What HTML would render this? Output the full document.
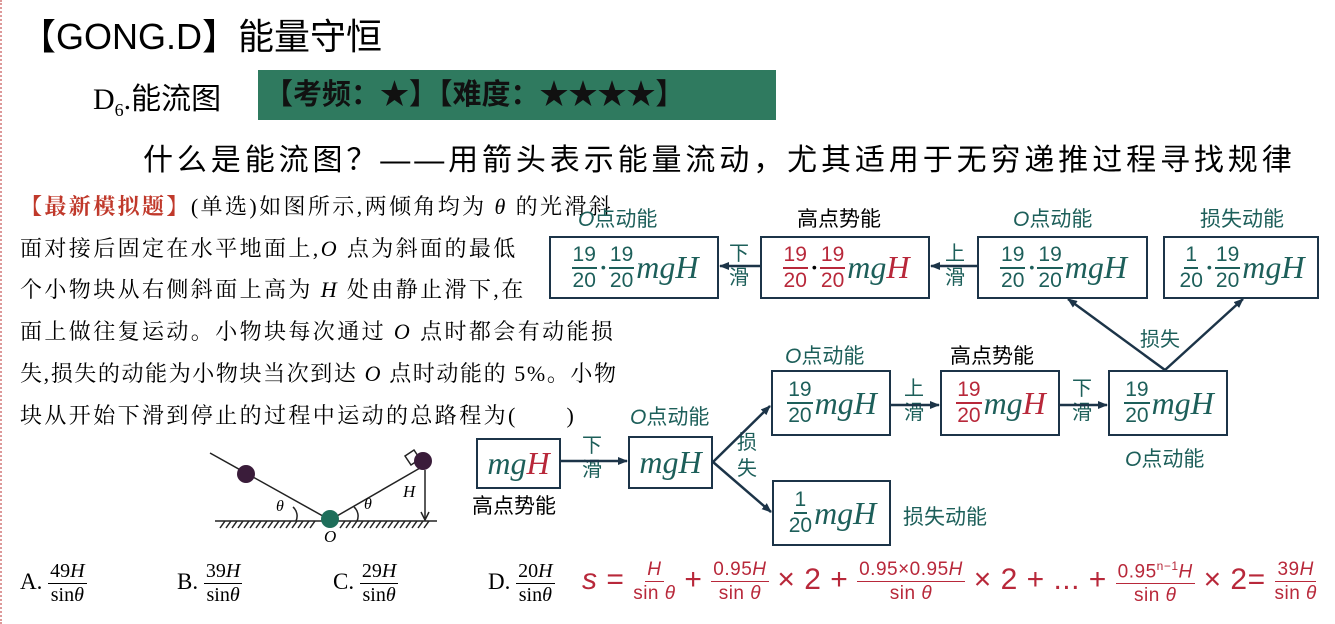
<!DOCTYPE html>
<html><head><meta charset="utf-8"><style>
body{margin:0;width:1335px;height:624px;background:#fff;position:relative;overflow:hidden;font-family:"Liberation Serif","Noto Serif CJK SC",serif;}
.a{position:absolute;white-space:nowrap;}
.cn{font-family:"Liberation Sans","Noto Sans CJK SC",sans-serif;}
.t{color:#1d5f5a}.r{color:#b8283a}
.box{position:absolute;border:2px solid #1c3448;box-sizing:border-box;display:flex;align-items:center;justify-content:center;font-family:"Liberation Serif",serif;font-style:italic;font-size:32px;}
.fr{display:inline-flex;flex-direction:column;align-items:center;font-style:normal;font-family:"Liberation Sans",sans-serif;font-size:21px;line-height:24px;vertical-align:middle;margin:0 2px;}
.fr span:first-child{border-bottom:2px solid currentColor;padding:0 1px;}
.lbl{position:absolute;font-family:"Liberation Sans","Noto Sans CJK SC",sans-serif;font-size:21px;}
.q{position:absolute;left:20px;font-size:22px;letter-spacing:2.4px;font-family:"Liberation Serif","Noto Serif CJK SC",serif;}
.ff{display:inline-flex;flex-direction:column;align-items:center;vertical-align:middle;font-size:19px;line-height:23px;}
.ff span:first-child{border-bottom:1.5px solid currentColor;padding:0 2px;}
</style></head><body>
<div class="a" style="left:0;top:0;height:624px;border-left:2px dotted #d99;"></div>
<div class="a cn" style="left:20px;top:8px;font-size:36px;">【GONG.D】能量守恒</div>
<div class="a" style="left:93px;top:74px;font-size:30px;">D<sub style="font-size:18px">6</sub>.<span class="cn">能流图</span></div>
<div class="a cn" style="left:258px;top:70px;width:518px;height:50px;background:#2f7a5f;font-size:29px;line-height:50px;font-weight:bold;color:#111;padding-left:6px;box-sizing:border-box;">【考频：★】【难度：★★★★】</div>
<div class="a cn" style="left:143px;top:135px;font-size:30px;letter-spacing:3.9px;">什么是能流图？——用箭头表示能量流动，尤其适用于无穷递推过程寻找规律</div>

<div class="q" style="top:190px"><span style="color:#c0392b;font-weight:bold">【最新模拟题】</span>(单选)如图所示,两倾角均为 <i>θ</i> 的光滑斜</div>
<div class="q" style="top:232px">面对接后固定在水平地面上,<i>O</i> 点为斜面的最低</div>
<div class="q" style="top:273px">个小物块从右侧斜面上高为 <i>H</i> 处由静止滑下,在</div>
<div class="q" style="top:315px">面上做往复运动。小物块每次通过 <i>O</i> 点时都会有动能损</div>
<div class="q" style="top:357px;letter-spacing:1.6px">失,损失的动能为小物块当次到达 <i>O</i> 点时动能的 5%。小物</div>
<div class="q" style="top:399px">块从开始下滑到停止的过程中运动的总路程为(　　)</div>

<div class="lbl t" style="left:578px;top:203px"><i>O</i>点动能</div>
<div class="lbl" style="left:797px;top:203px">高点势能</div>
<div class="lbl t" style="left:1013px;top:203px"><i>O</i>点动能</div>
<div class="lbl t" style="left:1200px;top:203px">损失动能</div>
<div class="box t" style="left:549px;top:236px;width:170px;height:63px"><span class="fr"><span>19</span><span>20</span></span>·<span class="fr"><span>19</span><span>20</span></span>mgH</div>
<div class="box" style="left:760px;top:236px;width:170px;height:63px"><span class="fr r"><span>19</span><span>20</span></span>·<span class="fr r"><span>19</span><span>20</span></span><span class="t">mg</span><span class="r">H</span></div>
<div class="box t" style="left:977px;top:236px;width:171px;height:63px"><span class="fr"><span>19</span><span>20</span></span>·<span class="fr"><span>19</span><span>20</span></span>mgH</div>
<div class="box t" style="left:1163px;top:236px;width:156px;height:63px"><span class="fr"><span>1</span><span>20</span></span>·<span class="fr"><span>19</span><span>20</span></span>mgH</div>

<div class="lbl t" style="left:785px;top:340px"><i>O</i>点动能</div>
<div class="lbl" style="left:950px;top:340px">高点势能</div>
<div class="lbl t" style="left:1125px;top:443px"><i>O</i>点动能</div>
<div class="box t" style="left:771px;top:370px;width:120px;height:66px"><span class="fr"><span>19</span><span>20</span></span>mgH</div>
<div class="box" style="left:940px;top:370px;width:120px;height:66px"><span class="fr r"><span>19</span><span>20</span></span><span class="t">mg</span><span class="r">H</span></div>
<div class="box t" style="left:1108px;top:370px;width:120px;height:66px"><span class="fr"><span>19</span><span>20</span></span>mgH</div>

<div class="lbl t" style="left:630px;top:401px"><i>O</i>点动能</div>
<div class="box" style="left:476px;top:438px;width:85px;height:51px"><span class="t">mg</span><span class="r">H</span></div>
<div class="box t" style="left:628px;top:436px;width:85px;height:53px">mgH</div>
<div class="lbl" style="left:472px;top:490px">高点势能</div>
<div class="box t" style="left:772px;top:480px;width:119px;height:66px"><span class="fr"><span>1</span><span>20</span></span>mgH</div>
<div class="lbl t" style="left:903px;top:501px">损失动能</div>

<div class="lbl t" style="left:582px;top:434px;line-height:24px;font-size:20px">下<br>滑</div>
<div class="lbl t" style="left:737px;top:430px;line-height:26px;font-size:20px">损<br>失</div>
<div class="lbl t" style="left:904px;top:377px;line-height:24px;font-size:20px">上<br>滑</div>
<div class="lbl t" style="left:1072px;top:377px;line-height:24px;font-size:20px">下<br>滑</div>
<div class="lbl t" style="left:1140px;top:323px;font-size:20px">损失</div>
<div class="lbl t" style="left:945px;top:242px;line-height:24px;font-size:20px">上<br>滑</div>
<div class="lbl t" style="left:729px;top:242px;line-height:24px;font-size:20px">下<br>滑</div>

<svg class="a" style="left:0;top:0" width="1335" height="624">
<defs><marker id="m" markerWidth="10" markerHeight="8" refX="9" refY="4" orient="auto" markerUnits="userSpaceOnUse"><path d="M0,0L10,4L0,8z" fill="#1c3448"/></marker></defs>
<g stroke="#1c3448" stroke-width="2.5" fill="none" marker-end="url(#m)">
<line x1="561" y1="461" x2="627" y2="461"/>
<line x1="713" y1="462" x2="770" y2="406"/>
<line x1="713" y1="462" x2="771" y2="512"/>
<line x1="891" y1="405" x2="939" y2="405"/>
<line x1="1060" y1="405" x2="1107" y2="405"/>
<line x1="1165" y1="370" x2="1068" y2="299"/>
<line x1="1165" y1="370" x2="1243" y2="299"/>
<line x1="977" y1="266" x2="931" y2="266"/>
<line x1="760" y1="266" x2="720" y2="266"/>
</g>
<g stroke="#222" stroke-width="1.5" fill="none">
<line x1="215" y1="521" x2="437" y2="521"/>
<path d="M220,528 l5,-7 M226,528 l5,-7 M232,528 l5,-7 M238,528 l5,-7 M244,528 l5,-7 M250,528 l5,-7 M256,528 l5,-7 M262,528 l5,-7 M268,528 l5,-7 M274,528 l5,-7 M280,528 l5,-7 M286,528 l5,-7 M292,528 l5,-7 M298,528 l5,-7 M304,528 l5,-7 M310,528 l5,-7 M340,528 l5,-7 M346,528 l5,-7 M352,528 l5,-7 M358,528 l5,-7 M364,528 l5,-7 M370,528 l5,-7 M376,528 l5,-7 M382,528 l5,-7 M388,528 l5,-7 M394,528 l5,-7 M400,528 l5,-7 M406,528 l5,-7 M412,528 l5,-7 M418,528 l5,-7 M424,528 l5,-7"/>
<line x1="210" y1="453" x2="330" y2="520"/>
<line x1="330" y1="520" x2="420" y2="468"/>
<path d="M296,521 a 12 12 0 0 0 -3,-14"/>
<path d="M357,521 a 12 12 0 0 0 -3,-14"/>
<line x1="425" y1="470" x2="425" y2="518"/>
<path d="M421,512 L425,520 L429,512"/>
<path d="M405,456 l9,-6 l6,9 l-9,6 z"/>
</g>
<circle cx="246" cy="474" r="9" fill="#3a1c3a"/>
<circle cx="423" cy="461" r="9" fill="#3a1c3a"/>
<circle cx="330" cy="519" r="9" fill="#1e6e5a"/>
</svg>
<div class="a" style="left:276px;top:498px;font-style:italic;font-size:16px">θ</div>
<div class="a" style="left:364px;top:496px;font-style:italic;font-size:16px">θ</div>
<div class="a" style="left:403px;top:482px;font-style:italic;font-size:17px">H</div>
<div class="a" style="left:324px;top:527px;font-style:italic;font-size:17px">O</div>

<div class="a" style="left:20px;top:560px;font-size:23px">A. <span class="ff" style="font-size:20px"><span>49<i>H</i></span><span>sin<i>θ</i></span></span></div>
<div class="a" style="left:177px;top:560px;font-size:23px">B. <span class="ff" style="font-size:20px"><span>39<i>H</i></span><span>sin<i>θ</i></span></span></div>
<div class="a" style="left:333px;top:560px;font-size:23px">C. <span class="ff" style="font-size:20px"><span>29<i>H</i></span><span>sin<i>θ</i></span></span></div>
<div class="a" style="left:488px;top:560px;font-size:23px">D. <span class="ff" style="font-size:20px"><span>20<i>H</i></span><span>sin<i>θ</i></span></span></div>
<div class="a r" style="left:582px;top:555px;font-size:30px;font-family:'Liberation Sans',sans-serif;letter-spacing:0.5px"><i>s</i> = <span class="ff"><span><i>H</i></span><span>sin <i>θ</i></span></span> + <span class="ff"><span>0.95<i>H</i></span><span>sin <i>θ</i></span></span> × 2 + <span class="ff"><span>0.95×0.95<i>H</i></span><span>sin <i>θ</i></span></span> × 2 + ... + <span class="ff"><span>0.95<sup style="font-size:12px">n−1</sup><i>H</i></span><span>sin <i>θ</i></span></span> × 2= <span class="ff"><span>39<i>H</i></span><span>sin <i>θ</i></span></span></div>
</body></html>
